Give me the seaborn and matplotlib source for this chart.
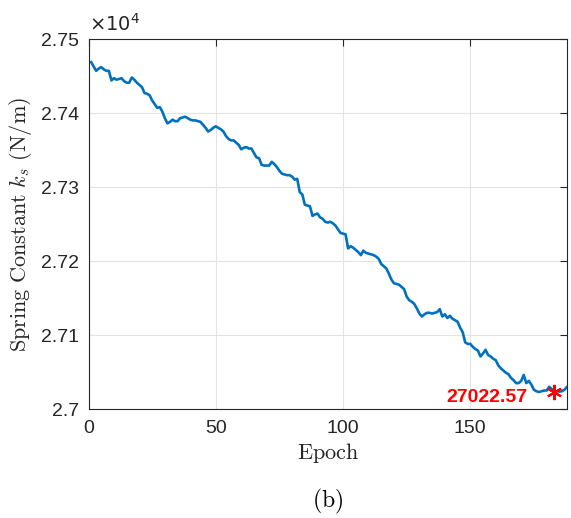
import matplotlib
matplotlib.use("Agg")
import matplotlib.pyplot as plt
import seaborn as sns
import numpy as np
import pandas as pd
from matplotlib.ticker import FuncFormatter, FixedLocator

# ---- data ----
epochs = list(range(1, 189))
spring_constant = [
    27469, 27463, 27457, 27460, 27462, 27459, 27457, 27457, 27444, 27447,
    27445, 27446, 27447, 27443, 27441, 27441, 27448, 27445, 27441, 27438,
    27435, 27427, 27426, 27424, 27417, 27412, 27407, 27408, 27402, 27393,
    27386, 27388, 27391, 27389, 27389, 27393, 27394, 27395, 27393, 27391,
    27390, 27390, 27389, 27388, 27384, 27380, 27375, 27377, 27380, 27382,
    27380, 27378, 27375, 27369, 27365, 27363, 27363, 27360, 27357, 27351,
    27353, 27354, 27352, 27352, 27346, 27340, 27339, 27330, 27329, 27329,
    27329, 27334, 27331, 27327, 27322, 27318, 27317, 27316, 27316, 27314,
    27310, 27311, 27293, 27290, 27276, 27275, 27274, 27261, 27263, 27264,
    27259, 27257, 27253, 27252, 27253, 27251, 27248, 27243, 27238, 27237,
    27236, 27217, 27220, 27218, 27215, 27212, 27208, 27214, 27211, 27210,
    27209, 27208, 27206, 27203, 27196, 27193, 27190, 27183, 27175, 27170,
    27169, 27168, 27165, 27162, 27152, 27147, 27145, 27142, 27136, 27129,
    27125, 27128, 27130, 27130, 27129, 27130, 27131, 27135, 27125, 27128,
    27123, 27126, 27122, 27120, 27118, 27110, 27104, 27090, 27088, 27088,
    27084, 27081, 27079, 27071, 27075, 27080, 27073, 27071, 27068, 27066,
    27059, 27055, 27052, 27049, 27047, 27042, 27039, 27035, 27035, 27038,
    27046, 27035, 27038, 27033, 27026, 27024, 27023, 27024, 27025, 27025,
    27030, 27027, 27022.57, 27024, 27023.5, 27024, 27026, 27030,
]
min_epoch = [183]
min_value = [27022.57]
min_label = ["27022.57"]
x_ticks = [0, 50, 100, 150]
y_ticks = [27000, 27100, 27200, 27300, 27400, 27500]

df = pd.DataFrame({"Epoch": epochs, "k": spring_constant})

sns.set_style("white")
plt.rcParams["font.family"] = ["Liberation Sans", "DejaVu Sans"]

fig = plt.figure(figsize=(5.71, 5.18), dpi=100)
ax = fig.add_axes([0.155, 0.2104, 0.838, 0.7143])

sns.lineplot(data=df, x="Epoch", y="k", ax=ax, color="#0072BD", linewidth=1.9)
ax.plot(min_epoch, min_value, linestyle="none", marker=(6, 2, 0),
        markersize=11, markeredgewidth=1.5, color="#FF0000", zorder=5)
ax.annotate(min_label[0], xy=(min_epoch[0], min_value[0]), xytext=(-19, -4),
            textcoords="offset points", ha="right", va="center",
            color="#FF0000", fontsize=14, fontweight="bold", zorder=6)

ax.set_xlim(0, 188)
ax.set_ylim(27000, 27500)
ax.xaxis.set_major_locator(FixedLocator(x_ticks))
ax.yaxis.set_major_locator(FixedLocator(y_ticks))
ax.yaxis.set_major_formatter(FuncFormatter(lambda v, p: f"{v/1e4:g}"))

ax.grid(True, color="#e3e3e3", linewidth=0.8)
for s in ax.spines.values():
    s.set_color("#262626")
    s.set_linewidth(0.8)
ax.tick_params(direction="in", length=5, width=0.8, colors="#262626",
               labelsize=14, top=True, right=True)
ax.tick_params(axis="y", pad=7)
ax.tick_params(axis="x", pad=8)

ax.set_xlabel(r"$\mathrm{Epoch}$", fontsize=16, math_fontfamily="cm",
              color="#262626", labelpad=3)
ax.set_ylabel(r"$\mathrm{Spring\ Constant}\ k_s\ \mathrm{(N/m)}$", fontsize=16,
              math_fontfamily="cm", color="#262626", labelpad=5)

ax.text(0.0, 1.012, r"$\times10^{4}$", transform=ax.transAxes, fontsize=14,
        math_fontfamily="dejavusans", color="#262626", ha="left", va="bottom")

fig.text(0.573, 0.031, r"$\mathrm{(b)}$", fontsize=17, math_fontfamily="cm",
         ha="center", va="center", color="black")

fig.savefig("out.png", dpi=100)
